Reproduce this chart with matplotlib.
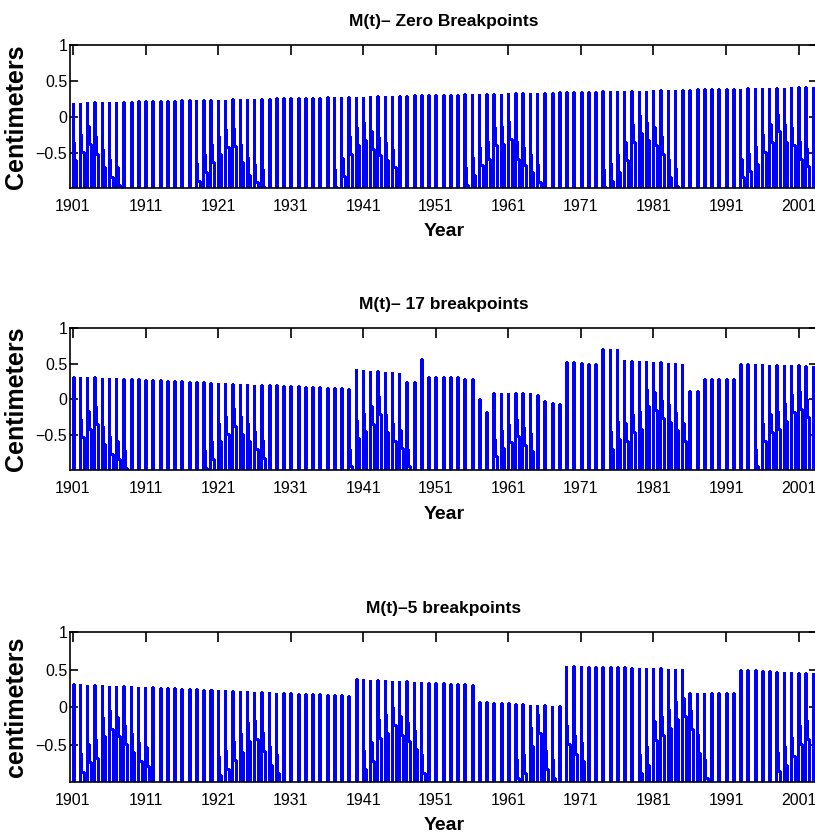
import numpy as np
import matplotlib.pyplot as plt

plt.rcParams['font.family'] = ['Liberation Sans', 'DejaVu Sans']

years = np.arange(1901, 2004)

# trend segments: first year of segment, level at its first year, level at its last year
p1_seg_start = [1901]
p1_seg_first = [0.20]
p1_seg_last = [0.42]

p2_seg_start = [1901, 1940, 1947, 1949, 1950, 1955, 1957, 1958, 1959, 1965, 1966,
                1969, 1974, 1977, 1986, 1988, 1993]
p2_seg_first = [0.32, 0.42, 0.24, 0.56, 0.32, 0.28, 0.00, -0.18, 0.095, 0.06, -0.03,
                0.53, 0.70, 0.55, 0.12, 0.29, 0.50]
p2_seg_last = [0.15, 0.37, 0.24, 0.56, 0.32, 0.28, 0.00, -0.18, 0.095, 0.06, -0.06,
               0.49, 0.70, 0.50, 0.12, 0.29, 0.47]

p3_seg_start = [1901, 1940, 1957, 1969, 1986, 1993]
p3_seg_first = [0.31, 0.38, 0.07, 0.55, 0.19, 0.50]
p3_seg_last = [0.155, 0.30, 0.02, 0.51, 0.19, 0.45]

# inner notch level of the yearly cycle (only where it shows above the axis floor)
p1_notch_years = [1901, 1902, 1903, 1904, 1905, 1906, 1907,
                  1918, 1919, 1920, 1921, 1922, 1923, 1924, 1925, 1926, 1927,
                  1937, 1938, 1939, 1940, 1941, 1942, 1943, 1944, 1945,
                  1955, 1956, 1957, 1958, 1959, 1960, 1961, 1962, 1963, 1964, 1965,
                  1974, 1975, 1976, 1977, 1978, 1979, 1980, 1981, 1982, 1983, 1984,
                  1993, 1994, 1995, 1996, 1997, 1998, 1999, 2000, 2001, 2002, 2003]
p1_notch_vals = [-0.60, -0.49, -0.37, -0.51, -0.70, -0.84, -0.94,
                 -0.89, -0.77, -0.63, -0.51, -0.41, -0.40, -0.62, -0.80, -0.91, -0.97,
                 -0.97, -0.82, -0.51, -0.39, -0.32, -0.44, -0.53, -0.60, -0.70,
                 -0.94, -0.80, -0.67, -0.58, -0.39, -0.38, -0.30, -0.58, -0.67, -0.77, -0.90,
                 -0.97, -0.89, -0.77, -0.60, -0.34, -0.22, -0.32, -0.39, -0.51, -0.84, -0.96,
                 -0.84, -0.75, -0.65, -0.49, -0.34, -0.20, -0.34, -0.39, -0.58, -0.68, -0.78]

p2_notch_years = [1902, 1903, 1904, 1905, 1906, 1907, 1908,
                  1919, 1920, 1921, 1922, 1923, 1924, 1925, 1926, 1927,
                  1939, 1940, 1941, 1942, 1943, 1944, 1945, 1946, 1947,
                  1959, 1960, 1961, 1962, 1963, 1964,
                  1975, 1976, 1977, 1978, 1979, 1980, 1981, 1982, 1983, 1984, 1985,
                  1995, 1996, 1997, 1998, 1999, 2000, 2001, 2002, 2003]
p2_notch_vals = [-0.53, -0.41, -0.34, -0.63, -0.77, -0.84, -0.96,
                 -0.96, -0.84, -0.58, -0.49, -0.37, -0.49, -0.58, -0.70, -0.82,
                 -0.94, -0.54, -0.44, -0.34, -0.20, -0.46, -0.58, -0.68, -0.94,
                 -0.80, -0.68, -0.60, -0.52, -0.64, -0.72,
                 -0.70, -0.56, -0.58, -0.46, -0.41, -0.10, -0.15, -0.26, -0.32, -0.43, -0.58,
                 -0.94, -0.58, -0.46, -0.41, -0.30, -0.18, -0.13, -0.25, -0.58]

p3_notch_years = [1902, 1903, 1904, 1905, 1906, 1907, 1908, 1909, 1910, 1911,
                  1921, 1922, 1923, 1924, 1925, 1926, 1927, 1928, 1929,
                  1941, 1942, 1943, 1944, 1945, 1946, 1947, 1948, 1949,
                  1962, 1963, 1964, 1965, 1966, 1967, 1969, 1970, 1971,
                  1979, 1980, 1981, 1982, 1983, 1984, 1985, 1986, 1987, 1988,
                  1998, 1999, 2000, 2001, 2002, 2003]
p3_notch_vals = [-0.86, -0.73, -0.67, -0.38, -0.29, -0.38, -0.48, -0.59, -0.71, -0.78,
                 -0.89, -0.82, -0.70, -0.59, -0.44, -0.42, -0.58, -0.76, -0.87,
                 -0.82, -0.71, -0.40, -0.34, -0.24, -0.36, -0.44, -0.55, -0.87,
                 -0.93, -0.87, -0.51, -0.34, -0.82, -0.93, -0.49, -0.62, -0.71,
                 -0.87, -0.76, -0.43, -0.36, -0.27, -0.16, -0.12, -0.29, -0.60, -0.93,
                 -0.84, -0.76, -0.64, -0.49, -0.42, -0.25]

titles = ['M(t)\u2013 Zero Breakpoints', 'M(t)\u2013 17 breakpoints', 'M(t)\u20135 breakpoints']
ylabels = ['Centimeters', 'Centimeters', 'centimeters']
xticks = np.arange(1901, 2002, 10)
yticks = [-0.5, 0, 0.5, 1]
ytick_labels = ['\u22120.5', '0', '0.5', '1']

FLOOR = -3.0
SHOULDER = 0.25   # thick part of the spike starts this far above the notch


def trend_levels(seg_start, seg_first, seg_last):
    tops = np.zeros(len(years))
    bounds = list(seg_start) + [years[-1] + 1]
    for i in range(len(seg_start)):
        sel = (years >= bounds[i]) & (years < bounds[i + 1])
        n = sel.sum()
        frac = np.linspace(0, 1, n) if n > 1 else np.zeros(n)
        tops[sel] = seg_first[i] + (seg_last[i] - seg_first[i]) * frac
    return tops


def yearly_cycle(tops, notch_years, notch_vals):
    notch = dict(zip(notch_years, notch_vals))
    t, v = [], []
    for yr, top in zip(years, tops):
        a = yr - 0.05
        if yr in notch:
            low = notch[yr]
            s = min(top, low + SHOULDER)
            t += [a, a, a + 0.04, a + 0.04, a + 0.2, a + 0.2, a + 0.5, a + 0.5]
            v += [FLOOR, top, top, s, s, low, low, FLOOR]
        else:
            t += [a, a, a + 0.14, a + 0.14]
            v += [FLOOR, top, top, FLOOR]
    return np.array(t), np.array(v)


panels = [
    (trend_levels(p1_seg_start, p1_seg_first, p1_seg_last), p1_notch_years, p1_notch_vals),
    (trend_levels(p2_seg_start, p2_seg_first, p2_seg_last), p2_notch_years, p2_notch_vals),
    (trend_levels(p3_seg_start, p3_seg_first, p3_seg_last), p3_notch_years, p3_notch_vals),
]

# axes boxes in figure fractions (left, bottom, width, height)
boxes = [(0.086, 0.776, 0.917, 0.170),
         (0.086, 0.4405, 0.917, 0.169),
         (0.086, 0.069, 0.917, 0.1786)]
year_label_y = [-0.245, -0.255, -0.235]

fig = plt.figure(figsize=(8.15, 8.4), dpi=100)

for k in range(3):
    tops, ny, nv = panels[k]
    ax = fig.add_axes(boxes[k])
    t, v = yearly_cycle(tops, ny, nv)
    ax.plot(t, v, color='#0000ff', lw=1.0, antialiased=False, solid_joinstyle='miter')

    ax.set_xlim(1900.6, 2003.6)
    ax.set_ylim(-0.99, 1)
    ax.set_xticks(xticks)
    ax.set_xticklabels([str(x) for x in xticks])
    ax.set_yticks(yticks)
    ax.set_yticklabels(ytick_labels)
    ax.tick_params(axis='x', direction='in', top=True, length=7, width=1.2,
                   pad=8, labelsize=11.5)
    ax.tick_params(axis='y', direction='in', right=True, length=6, width=1.2,
                   pad=2, labelsize=11.5)
    for s in ax.spines.values():
        s.set_linewidth(1.2)

    ax.set_title(titles[k], fontsize=12.5, fontweight='bold', pad=14)
    ax.set_xlabel('Year', fontsize=14, fontweight='bold')
    ax.xaxis.set_label_coords(0.5, year_label_y[k])
    ax.set_ylabel(ylabels[k], fontsize=18, fontweight='bold')
    ax.yaxis.set_label_coords(-0.056, 0.5)

fig.savefig('out.png', dpi=100)
